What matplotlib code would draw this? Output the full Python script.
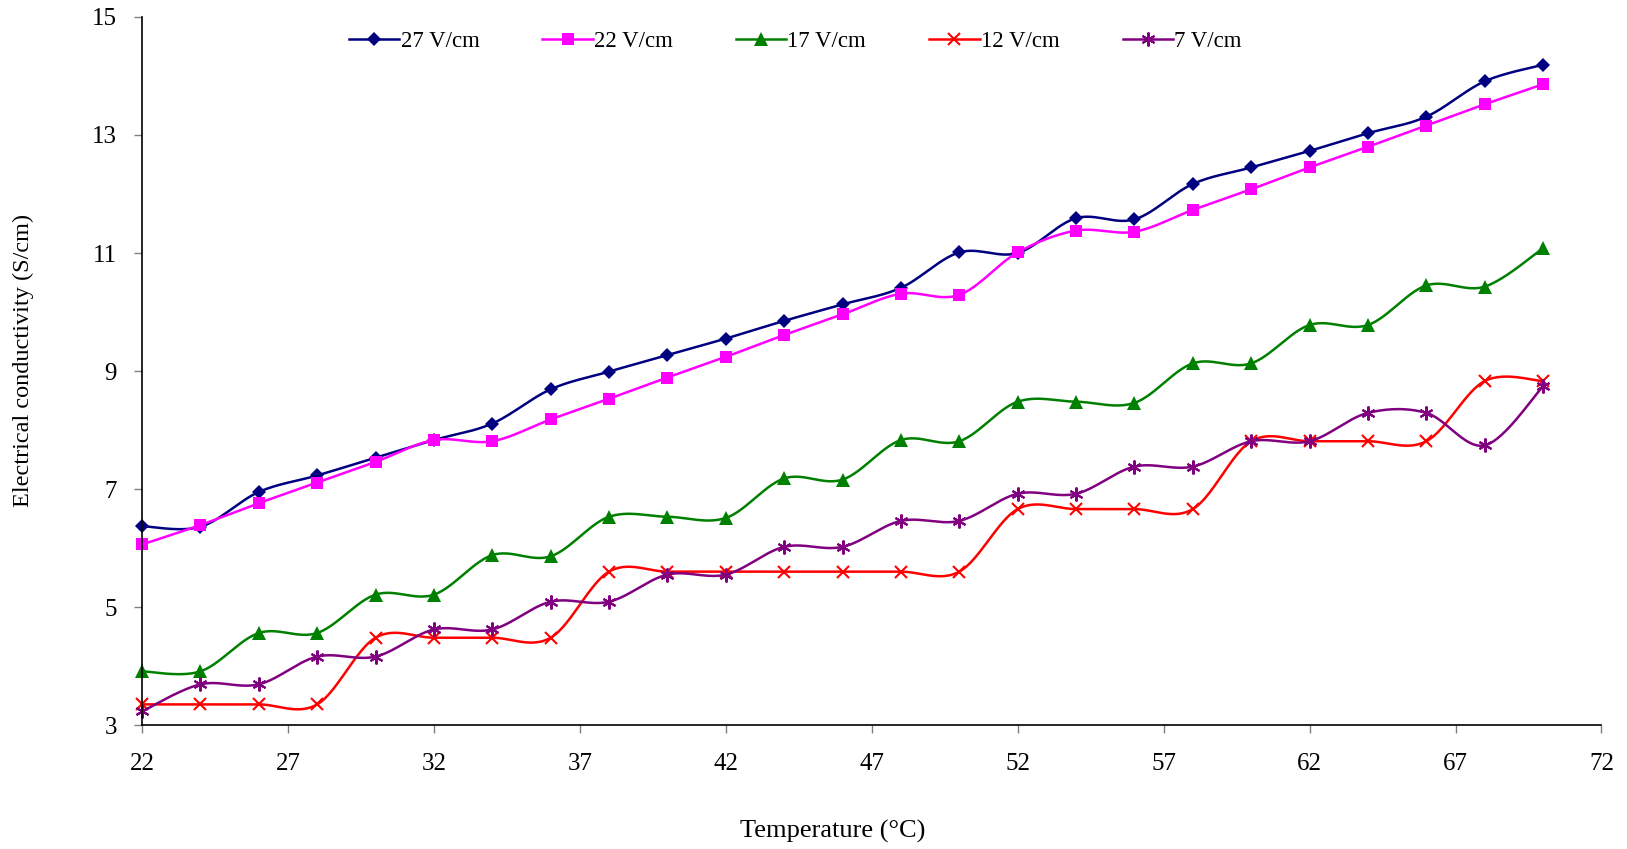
import numpy as np
import matplotlib
matplotlib.use("Agg")
import matplotlib.pyplot as plt

# temperature (°C) and conductivity (S/cm) for each field strength
temperature = [22, 24, 26, 28, 30, 32, 34, 36, 38, 40, 42, 44, 46,
               48, 50, 52, 54, 56, 58, 60, 62, 64, 66, 68, 70]

ec_27 = [6.37, 6.36, 6.95, 7.23, 7.53, 7.83, 8.11, 8.69, 8.99, 9.27, 9.55, 9.85, 10.13,
         10.41, 11.01, 11.00, 11.59, 11.57, 12.17, 12.45, 12.73, 13.03, 13.31, 13.91, 14.19]
ec_22 = [6.06, 6.39, 6.76, 7.11, 7.46, 7.83, 7.81, 8.18, 8.53, 8.89, 9.24, 9.61, 9.96,
         10.31, 10.29, 11.01, 11.38, 11.36, 11.73, 12.08, 12.45, 12.80, 13.16, 13.52, 13.86]
ec_17 = [3.91, 3.91, 4.56, 4.56, 5.21, 5.21, 5.88, 5.86, 6.53, 6.53, 6.51, 7.18, 7.16,
         7.83, 7.81, 8.48, 8.48, 8.46, 9.13, 9.13, 9.78, 9.78, 10.45, 10.43, 11.08]
ec_12 = [3.35, 3.35, 3.35, 3.35, 4.48, 4.48, 4.48, 4.48, 5.60, 5.60, 5.60, 5.60, 5.60,
         5.60, 5.60, 6.66, 6.66, 6.66, 6.66, 7.81, 7.81, 7.81, 7.81, 8.83, 8.83]
ec_7 = [3.23, 3.69, 3.69, 4.16, 4.16, 4.62, 4.62, 5.09, 5.09, 5.55, 5.55, 6.02, 6.02,
        6.46, 6.46, 6.92, 6.92, 7.38, 7.38, 7.81, 7.81, 8.29, 8.29, 7.74, 8.74]

labels = ["27 V/cm", "22 V/cm", "17 V/cm", "12 V/cm", "7 V/cm"]
colors = ["#000080", "#FF00FF", "#008000", "#FF0000", "#800080"]
markers = ["D", "s", "^", "x", (6, 2, 0)]
msizes = [7, 8.5, 9.5, 9, 10]


def smooth(x, y, n=30):
    """Excel-style smoothed line (Catmull-Rom through the points)."""
    x = np.asarray(x, float)
    y = np.asarray(y, float)
    p = np.column_stack([x, y])
    pp = np.vstack([p[0], p, p[-1]])
    t = np.linspace(0, 1, n)[:, None]
    out = []
    for i in range(len(p) - 1):
        p0, p1, p2, p3 = pp[i], pp[i + 1], pp[i + 2], pp[i + 3]
        c1 = p1 + (p2 - p0) / 6
        c2 = p2 - (p3 - p1) / 6
        seg = ((1 - t) ** 3 * p1 + 3 * (1 - t) ** 2 * t * c1
               + 3 * (1 - t) * t ** 2 * c2 + t ** 3 * p2)
        out.append(seg if i == 0 else seg[1:])
    out = np.vstack(out)
    return out[:, 0], out[:, 1]


plt.rcParams['font.family'] = ['Liberation Serif', 'DejaVu Serif']

fig = plt.figure(figsize=(16.27, 8.49), dpi=100)
ax = fig.add_axes([0.0873, 0.146, 0.897, 0.834])

series = [ec_27, ec_22, ec_17, ec_12, ec_7]
for vals, lab, col, mk, ms in zip(series, labels, colors, markers, msizes):
    sx, sy = smooth(temperature, vals)
    ax.plot(sx, sy, '-', color=col, linewidth=1.8, clip_on=False)
    mew = 1.5 if mk == "x" or isinstance(mk, tuple) else 0
    ax.plot(temperature, vals, linestyle='none', marker=mk, markersize=ms,
            color=col, markeredgewidth=mew, clip_on=False)
    # proxy for the legend (line + marker)
    ax.plot([], [], '-', color=col, linewidth=1.8, marker=mk, markersize=ms,
            markeredgewidth=mew, label=lab)

ax.set_xlim(22, 72)
ax.set_ylim(3, 15)
ax.set_xticks(np.arange(22, 73, 5))
ax.set_yticks(np.arange(3, 16, 2))

for s in ['top', 'right']:
    ax.spines[s].set_visible(False)
for s in ['left', 'bottom']:
    ax.spines[s].set_linewidth(1.2)
    ax.spines[s].set_color('black')

ax.tick_params(axis='x', direction='out', length=6, width=1, color='#808080',
               labelsize=18, pad=14)
ax.tick_params(axis='y', direction='out', length=6, width=1, color='#808080',
               labelsize=18, pad=12)

fig.text(0.5115, 1 - 831 / 849, "Temperature (°C)", fontsize=19,
         ha='center', va='center')
fig.text(23 / 1627, 1 - 360 / 849, "Electrical conductivity (S/cm)",
         fontsize=17.5, rotation=90, ha='center', va='center')

leg = ax.legend(loc='center left', bbox_to_anchor=(349 / 1627, 1 - 41.5 / 849),
                bbox_transform=fig.transFigure, ncol=5, frameon=False,
                fontsize=16.5, borderpad=0, borderaxespad=0,
                handlelength=2.2, handletextpad=0.05, columnspacing=2.75)

fig.savefig("out.png", dpi=100)
